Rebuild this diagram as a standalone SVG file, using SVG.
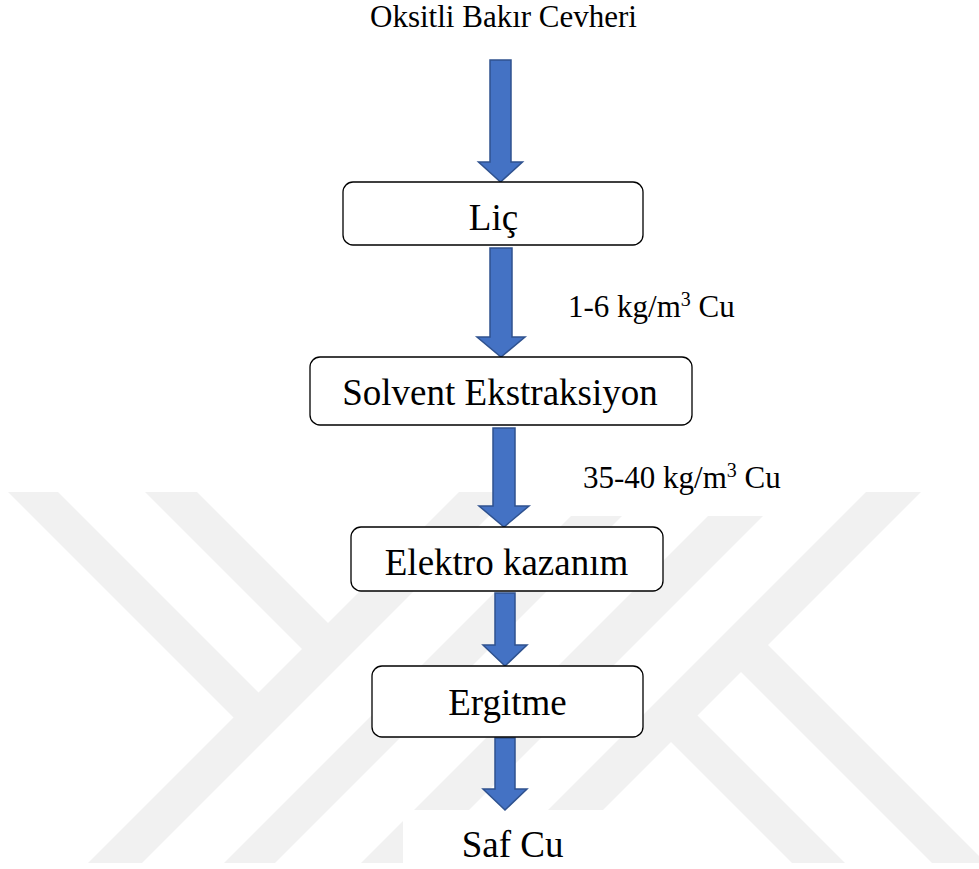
<svg xmlns="http://www.w3.org/2000/svg" width="979" height="869" viewBox="0 0 979 869">
  <style>
    .wm { fill: #f1f1f1; }
    .box { fill: #ffffff; stroke: #000000; stroke-width: 1.3; }
    text { font-family: 'Liberation Serif', 'Times New Roman', Tinos, 'DejaVu Serif', serif; fill: #000000; }
    .big { font-size: 37px; text-anchor: middle; }
    .lbl { font-size: 31px; }
    .arrow { fill: #4472C4; stroke: #2F528F; stroke-width: 1.5; stroke-linejoin: miter; }
  </style>
  <defs>
    <clipPath id="wmclip">
      <rect x="0" y="492" width="979" height="371"/>
    </clipPath>
  </defs>
  <rect x="0" y="0" width="979" height="869" fill="#ffffff"/>

  <g id="watermark" clip-path="url(#wmclip)">
    <polygon class="wm" points="471,480 525,480 125,880 71,880"/>
    <polygon class="wm" points="607,480 658,480 258,880 207,880"/>
    <polygon class="wm" points="744,480 799,480 399,880 344,880"/>
    <polygon class="wm" points="878,480 933,480 533,880 478,880"/>
    <polygon class="wm" points="-4,480 46,480 272,706 247,731"/>
    <polygon class="wm" points="133,480 185,480 341.5,636.5 315.5,662.5"/>
    <polygon class="wm" points="754.5,631.5 1003,880 949,880 727.5,658.5"/>
    <polygon class="wm" points="684,702 862,880 809,880 657.5,728.5"/>
  </g>
  <rect x="515" y="440" width="325" height="76" fill="#ffffff"/>
  <rect x="403" y="810" width="332" height="59" fill="#ffffff"/>

  <g id="connectors">
    <polygon class="arrow" points="490,60 511,60 511,162 522.5,162 500.5,182 478.5,162 490,162"/>
    <polygon class="arrow" points="490,248 512,248 512,337 525,337 501,357 477,337 490,337"/>
    <polygon class="arrow" points="493,428 515,428 515,506 529,506 504,527 479,506 493,506"/>
    <polygon class="arrow" points="495,593 515,593 515,645 527,645 505,666 483,645 495,645"/>
    <polygon class="arrow" points="495,738 515,738 515,789 527,789 505,810 483,789 495,789"/>
  </g>

  <g id="source">
    <text class="lbl" font-family="'Liberation Serif', serif" x="503.5" y="27" text-anchor="middle">Oksitli Bakır Cevheri</text>
  </g>

  <g id="lic">
    <rect class="box" x="343" y="182" width="300" height="63" rx="10" ry="10"/>
    <text class="big" font-family="'Liberation Serif', serif" x="493.5" y="230">Liç</text>
  </g>

  <g id="label1">
    <text class="lbl" font-family="'Liberation Serif', serif" x="568" y="317">1-6 kg/m<tspan font-size="20" dy="-11">3</tspan><tspan dy="11"> Cu</tspan></text>
  </g>

  <g id="solvent">
    <rect class="box" x="310" y="357" width="382" height="68" rx="10" ry="10"/>
    <text class="big" font-family="'Liberation Serif', serif" x="500" y="405">Solvent Ekstraksiyon</text>
  </g>

  <g id="label2">
    <text class="lbl" font-family="'Liberation Serif', serif" x="583" y="488">35-40 kg/m<tspan font-size="20" dy="-11">3</tspan><tspan dy="11"> Cu</tspan></text>
  </g>

  <g id="elektro">
    <rect class="box" x="351" y="527" width="312" height="64" rx="10" ry="10"/>
    <text class="big" font-family="'Liberation Serif', serif" x="506.5" y="575">Elektro kazanım</text>
  </g>

  <g id="ergitme">
    <rect class="box" x="372" y="666" width="271" height="71" rx="10" ry="10"/>
    <text class="big" font-family="'Liberation Serif', serif" x="507.5" y="715">Ergitme</text>
  </g>

  <g id="safcu">
    <text class="big" font-family="'Liberation Serif', serif" x="512.5" y="857">Saf Cu</text>
  </g>
</svg>
